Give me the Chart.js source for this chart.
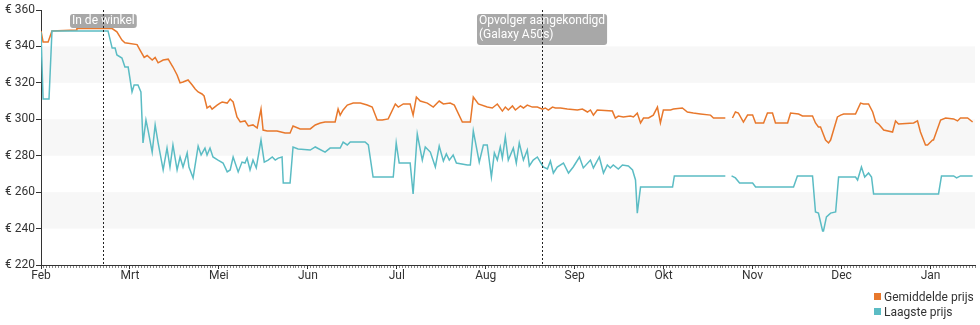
<!DOCTYPE html>
<html><head><meta charset="utf-8">
<script src="https://cdn.jsdelivr.net/npm/chart.js@4.4.1/dist/chart.umd.min.js"></script>
<style>
html,body{margin:0;padding:0;background:#fff;}
#wrap{position:relative;width:980px;height:325px;}
#legend{position:absolute;left:874px;top:289px;font:12px Roboto, sans-serif;color:#333;}
.li{display:flex;align-items:center;height:15px;white-space:nowrap;}
.sw{width:7px;height:7px;margin-right:3px;flex:none;}
</style></head><body>
<div id="wrap"><canvas id="c"></canvas><div id="legend"></div></div>
<script>
// ---- data (x = days since start of the chart, y = price in euro) ----
const monthLabels = ['Feb','Mrt','Mei','Jun','Jul','Aug','Sep','Okt','Nov','Dec','Jan'];
const seriesNames = ['Gemiddelde prijs','Laagste prijs'];
const seriesColors = ['#e8782c','#5bbcc4'];
const bandRanges = [[240,260],[280,300],[320,340]];
const eventDays = [21, 169];
const eventLabels = [['In de winkel'], ['Opvolger aangekondigd','(Galaxy A50s)']];

const avgDays = [0,0.7,2.4,3.7,12,12.1,24,25.6,27.3,28.3,32.4,33.4,34.8,35.8,37.5,38.5,39.5,41.2,42.9,44.5,45.9,46.9,47.9,49.6,51,52,53,54.3,55,56,57,57.7,59.4,60.4,61.1,62.8,63.8,64.8,66.1,67.2,68.8,69.9,71.5,72.9,74.2,74.9,76.3,79.6,82.3,84,85,87.4,90.8,92.5,94.2,95.8,97.5,99.2,100.2,100.9,101.9,103.3,105.3,107.7,110,111.7,113.4,115.1,117.1,119.5,120.5,122.2,124.5,125.5,126.6,127.9,130.3,132.3,134.3,135.7,138,139.4,142.1,144.8,145.8,147.5,150.5,152.2,153.9,155.6,156.6,157.6,159,160,161.7,162.7,164,165.7,167.4,169.1,170.1,171.1,172.5,173.5,175.2,177.5,180.9,182.6,184.3,185.3,186.3,187.6,192.7,193.7,194.7,196.4,198.8,199.8,201.1,202.2,203.2,204.9,206.5,207.9,208.9,209.9,212.3,213.3,216.3,218,220,222.4,225.8,226.8,230.8,232,233.2,234.2,235.2,236.9,238.3,240,241,243.7,245,246.7,247.7,251.8,252.8,255.5,256.8,260.2,261.2,262.2,262.9,264.6,265.6,266.3,268.6,269.7,270.7,274.7,276.4,277.4,279.1,280.5,281.5,282.5,284.2,287.2,288.2,289.2,294.3,295.6,296.6,298.3,299,300.7,301,303.4,305.1,307.8,309.1,310.1,312.5,314.2];
const avgPrices = [348.5,342.5,342.5,348.5,349,349.8,349.8,348,343.5,342,341,338,334,335,332.5,334,331,332.5,333,328.7,324.3,320,320.5,321.6,318.8,316.6,315,313.9,312.8,306.2,307.3,305.6,307.8,308.9,309.5,308.9,311.1,309.5,301.3,298.5,299.1,296.3,296.9,295.2,305.6,294.1,293.6,293.6,292.5,292.5,296.3,294.7,294.7,296.9,298,298.5,298.5,298.5,305.6,302.3,305.1,307.8,308.9,308.9,307.8,306.7,299.6,299.6,300.2,308.4,306.7,308.4,308.4,302.3,312.2,310,308.9,306.7,310,308.4,308.9,307.8,298.5,298.5,312.2,308.4,306.7,306.2,308.4,304.5,306.7,305.1,307.3,305.1,307.3,306.2,307.8,306.7,306.7,305.6,306.2,305.1,306.7,306.2,306.2,305.6,305.1,305.6,304,305.1,302.3,305.1,304.5,300.7,301.8,301.3,301.8,301.3,303.4,298,300.7,300.7,302.3,306.7,298,305.1,305.1,305.6,306.2,304,303.4,302.9,302.3,300.7,300.7,null,300.7,304,303.4,298.5,302.3,302.3,298,298,303.4,303.4,298,298,303.4,302.9,301.8,301.8,298,295.8,295.8,288.6,287,288.6,301.3,302.3,302.9,302.9,308.9,308.4,308.4,304,298.5,297.4,294.1,293,299.1,297.4,298,299.1,293,285.9,285.9,288.6,288.6,299.6,300.7,300.2,299.1,300.7,300.7,298.5];

const lowDays = [0,0.7,2.7,3.7,22.6,24,25,25.6,27.3,28.3,29.4,30.7,31.4,32.7,33.7,34.4,35.4,36.1,37.5,38.5,39.5,41.2,42.5,43.5,44.5,45.9,46.9,47.9,49.3,49.9,51.3,53,54,55.3,56,57,58,59.7,61.4,62.8,63.8,64.8,66.5,67.8,68.8,69.5,70.5,71.5,72.6,74.2,75.3,76.6,78,79,80,81.3,81.7,84,85,86.7,90.8,92.5,95.8,97.5,100.9,101.9,103.3,104.3,109.3,110.4,112,118.8,119.8,120.8,124.5,125.5,126.9,128.6,129.6,131.3,133,134.3,135.7,136.7,137.7,139,140.1,143.8,144.8,145.8,147.8,149.2,150.5,151.9,152.9,153.9,154.9,155.6,156.6,157.6,159.3,160.3,161.3,162.7,164,164.7,166,167.4,168.4,169.4,170.8,171.8,172.8,174.1,176.2,177.9,179.5,181.6,182.9,185.3,186.3,188.3,189.7,191,192,193,194.7,196.1,198.1,199.5,200.5,201.1,202.2,213,213.6,230.8,232,232.9,234.2,235.6,240,241,253.8,255.1,260.2,261.2,262.2,263.6,263.9,264.9,266.3,268,269,274.7,275.4,276.7,277.8,279.1,280.1,280.8,302.7,303.7,307.8,308.8,310.1,314.2];
const lowPrices = [347.9,311.1,311.1,348.5,348.5,339.1,339.1,335.3,333.6,328.7,328.7,315,318.8,318.8,315,287,299.6,294.1,282,296.9,287,272.2,284.2,273.8,285.9,272.2,279.3,273.8,281.5,273.8,267.8,285.3,280.4,284.2,280.4,284.2,279.3,277.6,276,271.1,272.2,279.3,271.1,276.5,276,278.7,272.2,277.6,273.3,288.6,276.5,277.6,279.3,277.6,278.7,279.3,265,265,284.8,283.7,283.1,284.8,282,284.2,284.2,287.5,285.9,287.5,287.5,285.9,268.3,268.3,287,276,276,259,291.9,277.6,284.8,282,273.8,285.3,277.1,281,277.6,280.4,276,274.9,274.9,293.6,276.5,285.9,285.9,268.3,281.5,277.6,284.8,278.7,290.3,277.6,284.2,276,287,277.6,283.1,274.4,277.6,279.3,276.5,273.8,272.7,277.1,270.5,273.8,276,270.5,273.8,279.3,273.3,277.6,273.3,279.3,270.5,274.9,273.3,274.9,272.7,274.9,274.4,272.2,266.7,248.5,262.8,262.8,268.9,268.9,null,268.9,267.8,265,265,262.8,262.8,268.9,268.9,249.1,248.5,238.7,238.7,246.4,248.5,249.1,268.3,268.3,266.7,273.8,268.3,270.5,268.3,259,259,268.9,268.9,267.8,268.9,268.9];

// ---- legend (HTML, real text) ----
const lg = document.getElementById('legend');
seriesNames.forEach((n,i)=>{
  const row = document.createElement('div'); row.className='li';
  const sw = document.createElement('span'); sw.className='sw'; sw.style.background=seriesColors[i];
  const t = document.createElement('span'); t.textContent=n;
  row.appendChild(sw); row.appendChild(t); lg.appendChild(row);
});

Chart.defaults.font.family = 'Roboto, sans-serif';
Chart.defaults.font.size = 12;
Chart.defaults.color = '#333';

const bandPlugin = {
  id:'bands',
  beforeDraw(chart){
    const {ctx, chartArea:a, scales:{y}} = chart;
    ctx.save(); ctx.fillStyle='#f7f7f7';
    bandRanges.forEach(([lo,hi])=>{
      const t=y.getPixelForValue(hi), b=y.getPixelForValue(lo);
      ctx.fillRect(a.left, t, a.right-a.left, b-t);
    });
    ctx.restore();
  }
};

const eventPlugin = {
  id:'events',
  afterDatasetsDraw(chart){
    const {ctx, chartArea:a, scales:{x}} = chart;
    ctx.save();
    ctx.font = '12px Roboto, sans-serif';
    eventDays.forEach((d,i)=>{
      const px = Math.round(x.getPixelForValue(d)) + 0.5;
      const lines = eventLabels[i];
      const w = Math.max(...lines.map(l=>ctx.measureText(l).width)) + 4;
      const h = lines.length*14 + (lines.length>1 ? 3 : 0);
      const bx = Math.round(px - w/2), by = a.top + 4;
      ctx.fillStyle = '#a8a8a8';
      ctx.beginPath();
      ctx.roundRect(bx, by, w, h, 3);
      ctx.fill();
      ctx.fillStyle = '#fff';
      ctx.textBaseline = 'top';
      ctx.textAlign = 'left';
      lines.forEach((l,j)=>ctx.fillText(l, bx+2, by+1+j*14));
      ctx.strokeStyle = '#222';
      ctx.lineWidth = 1;
      ctx.setLineDash([2,2]);
      ctx.beginPath();
      ctx.moveTo(px, a.top); ctx.lineTo(px, a.bottom);
      ctx.stroke();
    });
    ctx.restore();
  }
};

new Chart(document.getElementById('c'), {
  type:'line',
  data:{
    datasets:[
      {label:seriesNames[1], data:lowDays.map((d,i)=>({x:d,y:lowPrices[i]})), borderColor:seriesColors[1], backgroundColor:seriesColors[1], borderWidth:1.5, pointRadius:0, tension:0, spanGaps:false},
      {label:seriesNames[0], data:avgDays.map((d,i)=>({x:d,y:avgPrices[i]})), borderColor:seriesColors[0], backgroundColor:seriesColors[0], borderWidth:1.5, pointRadius:0, tension:0, spanGaps:false}
    ]
  },
  options:{
    responsive:true, maintainAspectRatio:false, animation:false,
    layout:{padding:{left:0,top:10,right:5,bottom:40}},
    plugins:{legend:{display:false}, tooltip:{enabled:false}},
    scales:{
      x:{
        type:'linear', min:0, max:315,
        border:{color:'#333'},
        grid:{drawOnChartArea:false, tickLength:4,
          tickColor:c=>(c.tick && c.tick.value%30===0)?'#333':'#888',
          tickBorderDash:c=>(c.tick && c.tick.value%30===0)?[]:[2,10]},
        ticks:{stepSize:1, autoSkip:false, maxRotation:0, minRotation:0, padding:0, color:'#333',
          callback:v=>(v%30===0 && monthLabels[v/30]!==undefined)?monthLabels[v/30]:''},
        afterFit:s=>{s.height=20;}
      },
      y:{
        min:220, max:360,
        border:{color:'#333'},
        grid:{drawOnChartArea:false, tickLength:5, tickColor:'#333'},
        ticks:{stepSize:20, padding:1, color:'#333', callback:v=>'€ '+v},
        afterFit:s=>{s.width=41;}
      }
    }
  },
  plugins:[bandPlugin, eventPlugin]
});
</script>
</body></html>
